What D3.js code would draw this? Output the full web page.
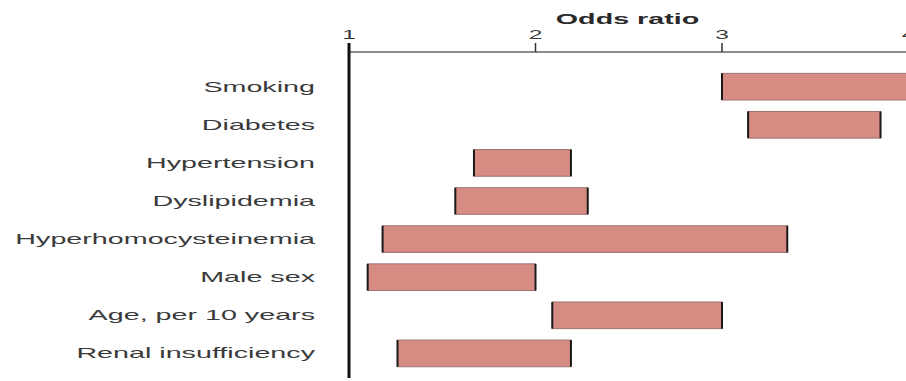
<!DOCTYPE html>
<html>
<head>
<meta charset="utf-8">
<script src="https://cdn.jsdelivr.net/npm/d3@7/dist/d3.min.js"></script>
<style>
  html, body { margin: 0; padding: 0; background: #fff; }
  svg { display: block; }
</style>
</head>
<body>
<svg id="chart" width="906" height="381"></svg>
<script>
// Risk factors and odds-ratio ranges (lower, upper)
const factors = ["Smoking", "Diabetes", "Hypertension", "Dyslipidemia",
  "Hyperhomocysteinemia", "Male sex", "Age, per 10 years", "Renal insufficiency"];
const lower = [3.00, 3.14, 1.67, 1.57, 1.18, 1.10, 2.09, 1.26];
const upper = [4.10, 3.85, 2.19, 2.28, 3.35, 2.00, 3.00, 2.19];
const tickValues = [1, 2, 3, 4];
const axisTitle = "Odds ratio";

const W = 906, H = 381;
const sx = 2.05;              // wide text face
const font = "'Liberation Sans', Arial, sans-serif";

const svg = d3.select("#chart");

const x = d3.scaleLinear().domain([1, 4]).range([349, 908.5]);
const y = d3.scalePoint().domain(factors).range([86.7, 353.4]);
const barH = y.step() * 0.7;

const rows = factors.map((f, i) => ({ f, lo: lower[i], hi: upper[i] }));

svg.append("defs").append("clipPath").attr("id", "plot")
  .append("rect").attr("x", x(1)).attr("y", 0).attr("width", W - x(1)).attr("height", H);

// top axis
const axis = svg.append("g");
axis.append("line")
  .attr("x1", x(1)).attr("x2", W).attr("y1", 52).attr("y2", 52)
  .attr("stroke", "#8a8a8a").attr("stroke-width", 2);
axis.selectAll(".tick").data(tickValues).join("line")
  .attr("x1", d => x(d)).attr("x2", d => x(d))
  .attr("y1", 43).attr("y2", 52)
  .attr("stroke", "#333").attr("stroke-width", 1.5);
axis.selectAll(".tl").data(tickValues).join("text")
  .attr("transform", d => `translate(${x(d)},38.5) scale(${sx},1)`)
  .attr("text-anchor", "middle")
  .attr("font-family", font).attr("font-size", 12).attr("fill", "#3a3a3a")
  .text(d => d);
axis.append("text")
  .attr("transform", `translate(${(x(1) + W) / 2},24) scale(${sx},1)`)
  .attr("text-anchor", "middle")
  .attr("font-family", font).attr("font-size", 14).attr("font-weight", "bold")
  .attr("fill", "#2a2a2a")
  .text(axisTitle);

// bars
const bars = svg.append("g").attr("clip-path", "url(#plot)");
const g = bars.selectAll("g").data(rows).join("g");
g.append("rect")
  .attr("x", d => x(d.lo)).attr("width", d => x(d.hi) - x(d.lo))
  .attr("y", d => y(d.f) - barH / 2).attr("height", barH)
  .attr("fill", "#d68b83").attr("stroke", "#9c7470").attr("stroke-width", 1);
g.selectAll("line").data(d => [d.lo, d.hi].map(v => ({ v, f: d.f }))).join("line")
  .attr("x1", d => x(d.v)).attr("x2", d => x(d.v))
  .attr("y1", d => y(d.f) - barH / 2).attr("y2", d => y(d.f) + barH / 2)
  .attr("stroke", "#1a1a1a").attr("stroke-width", 2);

// vertical reference line at OR = 1
svg.append("line")
  .attr("x1", x(1)).attr("x2", x(1)).attr("y1", 43).attr("y2", 378)
  .attr("stroke", "#111").attr("stroke-width", 3);

// category labels
svg.append("g").selectAll("text").data(factors).join("text")
  .attr("transform", d => `translate(315,${y(d) + 5}) scale(${sx},1)`)
  .attr("text-anchor", "end")
  .attr("font-family", font).attr("font-size", 14).attr("fill", "#3a3a3a")
  .text(d => d);
</script>
</body>
</html>
